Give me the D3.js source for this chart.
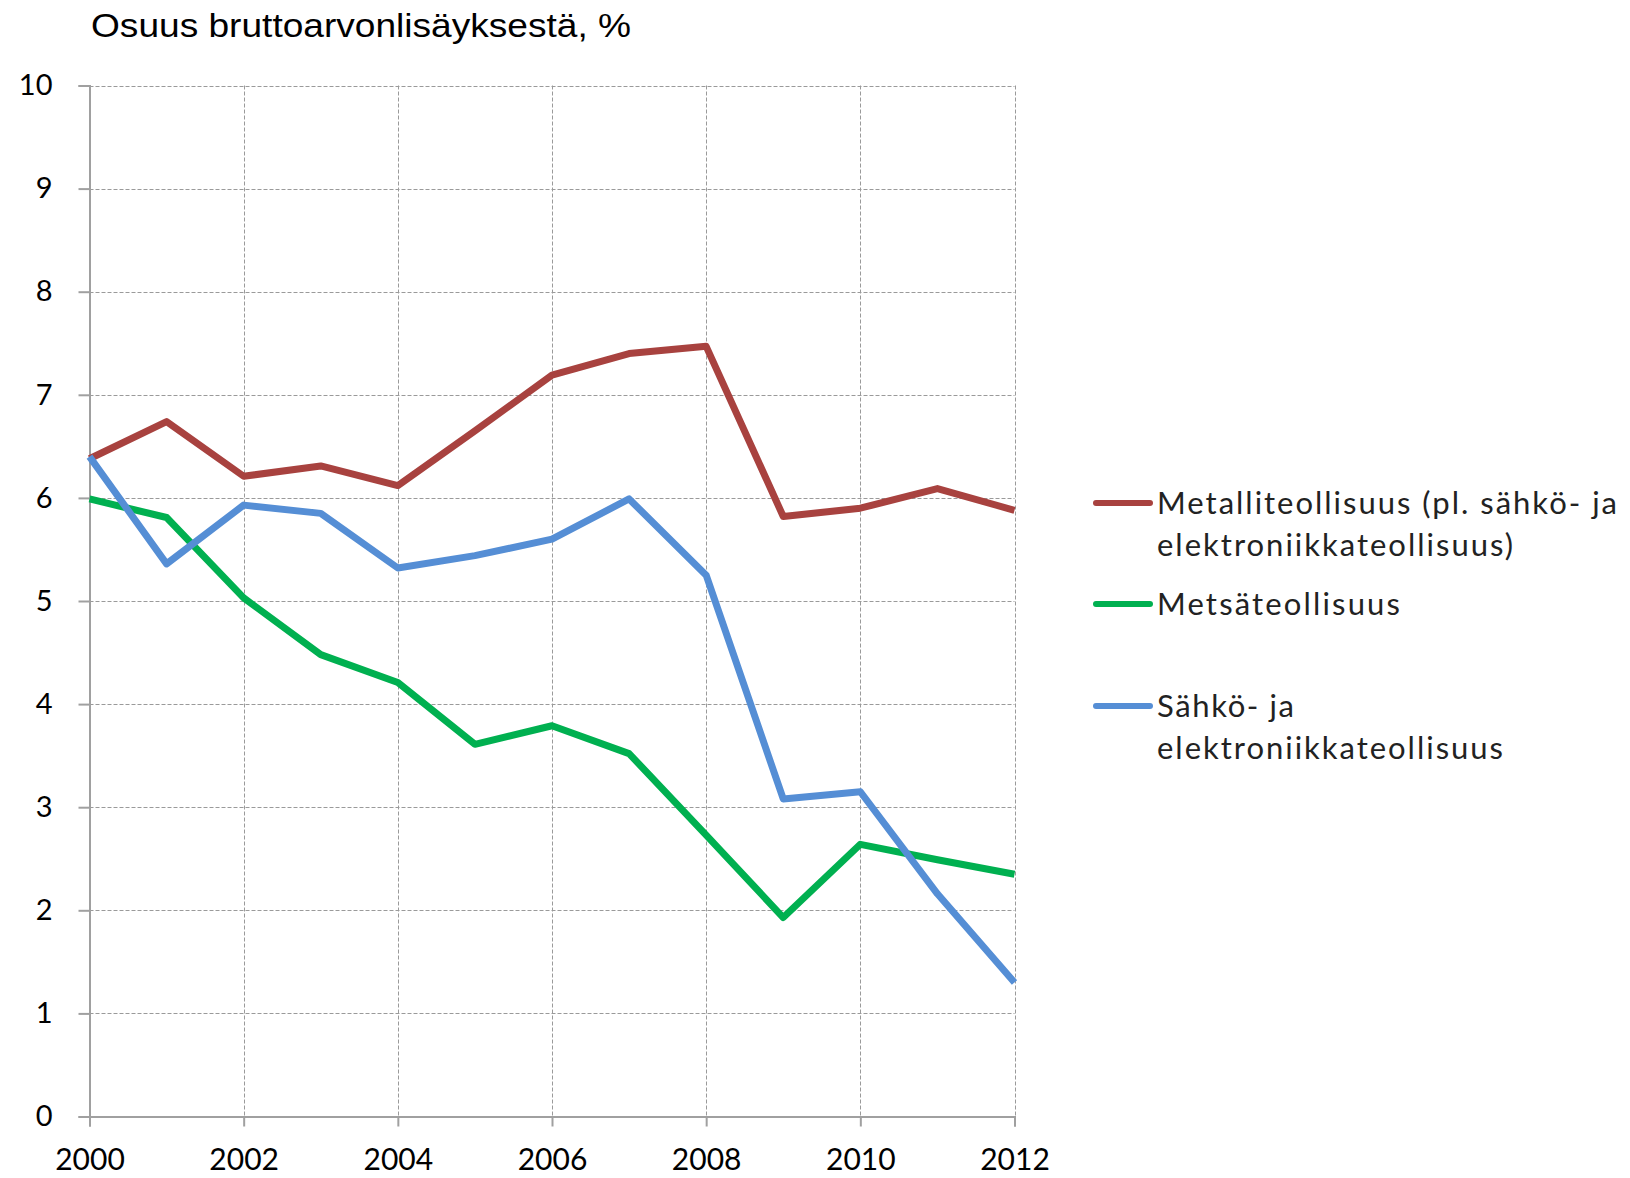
<!DOCTYPE html>
<html>
<head>
<meta charset="utf-8">
<script src="https://cdn.jsdelivr.net/npm/d3@7"></script>
<style>
  body { margin: 0; background: #fff; }
  svg { display: block; }
</style>
</head>
<body>
<div class="chart"></div>
<script>
// data
const years = [2000, 2001, 2002, 2003, 2004, 2005, 2006, 2007, 2008, 2009, 2010, 2011, 2012];
const metalli = [6.38, 6.74, 6.21, 6.31, 6.12, 6.65, 7.19, 7.40, 7.47, 5.82, 5.90, 6.09, 5.88];
const metsa = [5.99, 5.81, 5.03, 4.48, 4.21, 3.61, 3.79, 3.52, 2.73, 1.93, 2.64, 2.49, 2.35];
const sahko = [6.40, 5.36, 5.93, 5.85, 5.32, 5.44, 5.60, 5.99, 5.25, 3.08, 3.15, 2.16, 1.30];
const yTicks = [0, 1, 2, 3, 4, 5, 6, 7, 8, 9, 10];
const xTicks = [2000, 2002, 2004, 2006, 2008, 2010, 2012];
const title = "Osuus bruttoarvonlisäyksestä, %";

const series = [
  { lines: ["Metalliteollisuus (pl. sähkö- ja", "elektroniikkateollisuus)"], values: metalli, color: "#a8423f", ly: 503, widths: [460, 356] },
  { lines: ["Metsäteollisuus"], values: metsa, color: "#00b050", ly: 604, widths: [243] },
  { lines: ["Sähkö- ja", "elektroniikkateollisuus"], values: sahko, color: "#558ed5", ly: 706, widths: [137, 346] }
];

const W = 1630, H = 1178;
const plot = { left: 89.5, right: 1014.5, top: 85.5, bottom: 1116.5 };

const svg = d3.select(".chart").append("svg")
  .attr("width", W)
  .attr("height", H);

const x = d3.scaleLinear().domain([2000, 2012]).range([plot.left, plot.right]);
const y = d3.scaleLinear().domain([0, 10]).range([plot.bottom, plot.top]);

// title
svg.append("text")
  .attr("x", 91)
  .attr("y", 37)
  .attr("font-family", "'Liberation Sans', Arial, sans-serif")
  .attr("font-size", 34)
  .attr("textLength", 540)
  .attr("lengthAdjust", "spacingAndGlyphs")
  .attr("fill", "#000")
  .text(title);

// dashed grid
const grid = svg.append("g").attr("stroke", "#9a9a9a").attr("stroke-width", 1).attr("stroke-dasharray", "4,2");
grid.selectAll("line.h")
  .data(yTicks.filter(d => d > 0))
  .join("line")
    .attr("class", "h")
    .attr("x1", plot.left).attr("x2", plot.right)
    .attr("y1", d => Math.round(y(d)) + 0.5).attr("y2", d => Math.round(y(d)) + 0.5);
grid.selectAll("line.v")
  .data(xTicks.filter(d => d > 2000))
  .join("line")
    .attr("class", "v")
    .attr("x1", d => Math.round(x(d)) + 0.5).attr("x2", d => Math.round(x(d)) + 0.5)
    .attr("y1", plot.top).attr("y2", plot.bottom);

// axes
const yAxis = svg.append("g")
  .attr("transform", `translate(${plot.left},0)`)
  .call(d3.axisLeft(y).tickValues(yTicks).tickSize(11).tickPadding(26).tickFormat(d3.format("d")));
const xAxis = svg.append("g")
  .attr("transform", `translate(0,${plot.bottom})`)
  .call(d3.axisBottom(x).tickValues(xTicks).tickSize(10).tickPadding(22).tickFormat(d3.format("d")));

[yAxis, xAxis].forEach(g => {
  g.select(".domain").attr("stroke", "#a0a0a0").attr("stroke-width", 2);
  g.selectAll(".tick line").attr("stroke", "#a0a0a0").attr("stroke-width", 2);
  g.selectAll(".tick text")
    .attr("fill", "#000")
    .attr("font-family", "Lato, 'Open Sans', sans-serif");
});
yAxis.selectAll(".tick text").attr("font-size", 29);
xAxis.selectAll(".tick text").attr("font-size", 30);

// lines
const line = d3.line()
  .x((d, i) => x(years[i]))
  .y(d => y(d));

svg.append("g")
  .selectAll("path")
  .data(series)
  .join("path")
    .attr("d", d => line(d.values))
    .attr("fill", "none")
    .attr("stroke", d => d.color)
    .attr("stroke-width", 7)
    .attr("stroke-linejoin", "round");

// legend
const legend = svg.append("g");
series.forEach(s => {
  legend.append("line")
    .attr("x1", 1096).attr("x2", 1150)
    .attr("y1", s.ly).attr("y2", s.ly)
    .attr("stroke", s.color)
    .attr("stroke-width", 6)
    .attr("stroke-linecap", "round");
  s.lines.forEach((t, i) => {
    legend.append("text")
      .attr("x", 1157)
      .attr("y", s.ly + i * 42)
      .attr("dy", "0.36em")
      .attr("font-family", "Lato, 'Open Sans', sans-serif")
      .attr("font-size", 31)
      .attr("textLength", s.widths[i])
      .attr("lengthAdjust", "spacing")
      .attr("fill", "#222")
      .text(t);
  });
});
</script>
</body>
</html>
